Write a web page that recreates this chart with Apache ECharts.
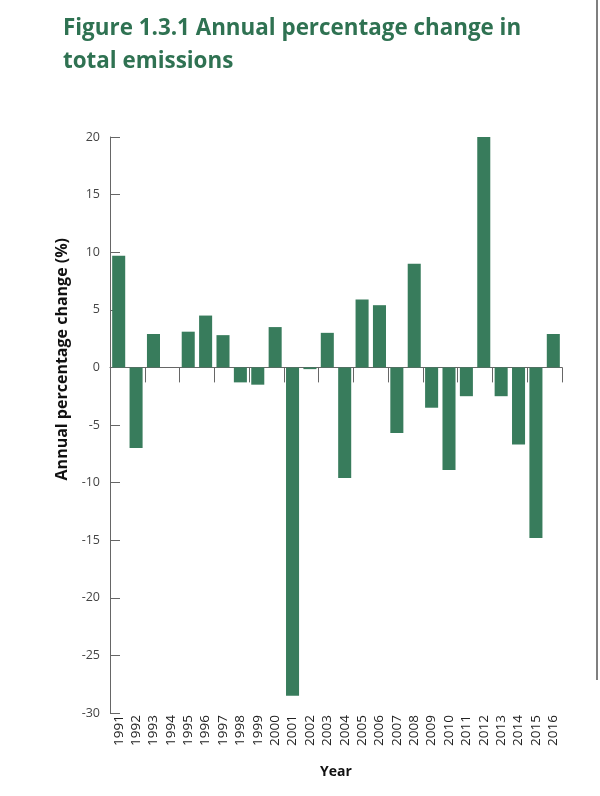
<!DOCTYPE html>
<html>
<head>
<meta charset="utf-8">
<script src="https://cdn.jsdelivr.net/npm/echarts@6/dist/echarts.min.js"></script>
<style>
html,body{margin:0;padding:0;background:#fff;}
#c{width:600px;height:796px;}
</style>
</head>
<body>
<div id="c"></div>
<script>
const years = ['1991','1992','1993','1994','1995','1996','1997','1998','1999','2000','2001','2002','2003','2004','2005','2006','2007','2008','2009','2010','2011','2012','2013','2014','2015','2016'];
const changes = [9.7, -7.0, 2.9, 0, 3.1, 4.5, 2.8, -1.3, -1.5, 3.5, -28.5, -0.15, 3.0, -9.6, 5.9, 5.4, -5.7, 9.0, -3.5, -8.9, -2.5, 20.0, -2.5, -6.7, -14.8, 2.9];
const yTicks = [-30, -25, -20, -15, -10, -5, 0, 5, 10, 15, 20];
const titleLines = ['Figure 1.3.1 Annual percentage change in', 'total emissions'];
const yName = 'Annual percentage change (%)';
const xName = 'Year';

const chart = echarts.init(document.getElementById('c'), null, {renderer: 'canvas'});
const green = '#387c5c';
const axisGrey = '#666';
chart.setOption({
  animation: false,
  backgroundColor: '#fff',
  title: {
    text: titleLines.join('\n'),
    left: 58, top: 7,
    textStyle: {fontFamily: 'Open Sans', fontWeight: 'bold', fontSize: 22.4, color: '#2f7252', lineHeight: 33}
  },
  grid: {left: 110, right: 38, top: 137, bottom: 83},
  xAxis: [{
    type: 'category', data: years,
    axisLine: {onZero: true, lineStyle: {color: axisGrey, width: 1}},
    axisTick: {show: true, inside: false, length: 15, lineStyle: {color: axisGrey}},
    axisLabel: {show: false}
  }, {
    type: 'category', data: years, position: 'bottom',
    axisLine: {show: false, onZero: false},
    axisTick: {show: false},
    axisLabel: {rotate: 90, margin: 2, fontFamily: 'Open Sans', fontSize: 13.5, color: '#222', interval: 0},
    name: xName, nameLocation: 'middle', nameGap: 52,
    nameTextStyle: {fontFamily: 'Open Sans', fontWeight: 'bold', fontSize: 14, color: '#111'}
  }],
  yAxis: {
    type: 'value', min: yTicks[0], max: yTicks[yTicks.length - 1], interval: 5,
    axisLine: {show: true, lineStyle: {color: axisGrey}},
    axisTick: {show: true, inside: true, length: 10, lineStyle: {color: axisGrey}},
    splitLine: {show: false},
    axisLabel: {fontFamily: 'Open Sans', fontSize: 12.5, color: '#444', margin: 10}
  },
  graphic: [{
    type: 'text', left: 54, top: 238, rotation: Math.PI / 2,
    style: {text: yName, fontFamily: 'Open Sans', fontWeight: 'bold', fontSize: 16, fill: '#111'}
  }, {
    type: 'line', shape: {x1: 597, y1: 0, x2: 597, y2: 680},
    style: {stroke: '#555', lineWidth: 1.5}
  }],
  series: [{
    type: 'bar', data: changes, xAxisIndex: 0,
    barCategoryGap: '25%',
    itemStyle: {color: green}
  }]
});
</script>
</body>
</html>
